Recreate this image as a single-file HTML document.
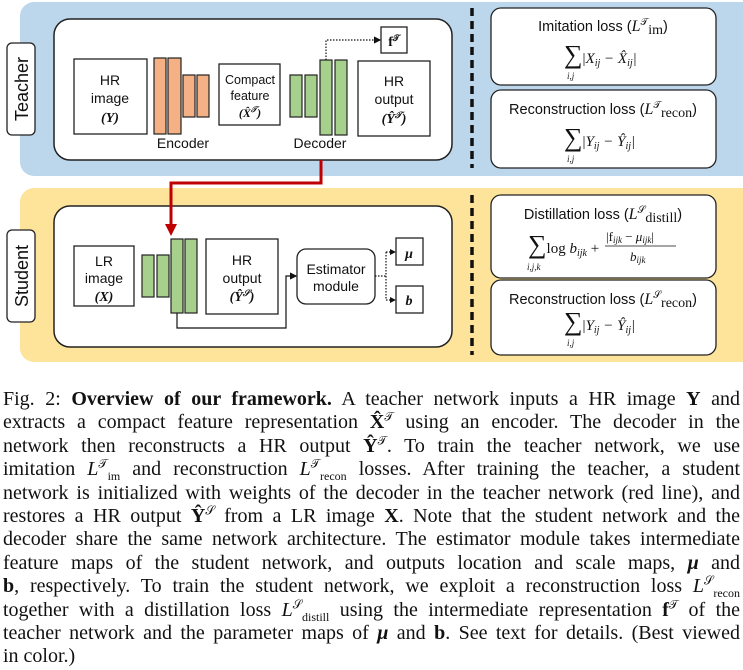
<!DOCTYPE html>
<html><head><meta charset="utf-8"><style>
html,body{margin:0;padding:0;background:#fff;width:743px;height:670px;overflow:hidden}
svg{position:absolute;left:0;top:0}
.s{font-family:"Liberation Sans",sans-serif;fill:#111}
.m{font-family:"Liberation Serif",serif;fill:#111}
#cap{position:absolute;left:3px;top:388px;width:737px;font-family:"Liberation Serif",serif;font-size:20px;color:#111}
#cap div{height:23.4px;line-height:23.4px;white-space:nowrap}
sub,sup{font-size:12px;line-height:0}
</style></head><body>
<svg width="743" height="380" viewBox="0 0 743 380">
<defs>
<marker id="a" markerWidth="6" markerHeight="6" refX="5" refY="3" orient="auto"><path d="M0,0L6,3L0,6z" fill="#111"/></marker>
</defs>
<rect x="20" y="2" width="740" height="174" rx="14" fill="#bcd6ec"/>
<rect x="20" y="188" width="740" height="174" rx="14" fill="#fde49a"/>
<rect x="54" y="19" width="398" height="141" rx="16" fill="#fff" stroke="#222" stroke-width="1.5"/>
<rect x="54" y="206" width="398" height="141" rx="16" fill="#fff" stroke="#222" stroke-width="1.5"/>
<rect x="7" y="43" width="28" height="92" rx="5" fill="#fff" stroke="#222" stroke-width="1.3"/>
<text class="s" font-size="18" transform="translate(28,89) rotate(-90)" text-anchor="middle">Teacher</text>
<rect x="7" y="230" width="28" height="92" rx="5" fill="#fff" stroke="#222" stroke-width="1.3"/>
<text class="s" font-size="18" transform="translate(28,276) rotate(-90)" text-anchor="middle">Student</text>
<line x1="472" y1="8" x2="472" y2="168" stroke="#111" stroke-width="3.5" stroke-dasharray="8,5"/>
<line x1="472" y1="195" x2="472" y2="355" stroke="#111" stroke-width="3.5" stroke-dasharray="8,5"/>
<g fill="#fff" stroke="#222" stroke-width="1.3">
<rect x="491" y="8" width="225" height="77" rx="10"/>
<rect x="491" y="90" width="225" height="78" rx="10"/>
<rect x="491" y="195" width="225" height="83" rx="10"/>
<rect x="491" y="280" width="225" height="75" rx="10"/>
</g>
<g class="s" font-size="14.5" text-anchor="middle">
<text x="603" y="31">Imitation loss (<tspan class="m" font-style="italic" font-size="16">L</tspan><tspan class="m" font-size="10" dy="-6">𝒯</tspan><tspan class="m" dy="9" font-size="14">im</tspan><tspan dy="-3">)</tspan></text>
<text x="603" y="114">Reconstruction loss (<tspan class="m" font-style="italic" font-size="16">L</tspan><tspan class="m" font-size="10" dy="-6">𝒯</tspan><tspan class="m" dy="9" font-size="14">recon</tspan><tspan dy="-3">)</tspan></text>
<text x="603" y="219">Distillation loss (<tspan class="m" font-style="italic" font-size="16">L</tspan><tspan class="m" font-size="10" dy="-6">𝒮</tspan><tspan class="m" dy="9" font-size="14">distill</tspan><tspan dy="-3">)</tspan></text>
<text x="603" y="304">Reconstruction loss (<tspan class="m" font-style="italic" font-size="16">L</tspan><tspan class="m" font-size="10" dy="-6">𝒮</tspan><tspan class="m" dy="9" font-size="14">recon</tspan><tspan dy="-3">)</tspan></text>
</g>
<g class="m" font-size="15">
<text x="564" y="63"><tspan font-size="26">∑</tspan>|<tspan font-style="italic">X<tspan font-size="10" dy="3">ij</tspan><tspan dy="-3"> − X̂</tspan><tspan font-size="10" dy="3">ij</tspan><tspan dy="-3">|</tspan></tspan></text>
<text x="567" y="79" font-size="9" font-style="italic">i,j</text>
<text x="564" y="146"><tspan font-size="26">∑</tspan>|<tspan font-style="italic">Y<tspan font-size="10" dy="3">ij</tspan><tspan dy="-3"> − Ŷ</tspan><tspan font-size="10" dy="3">ij</tspan><tspan dy="-3">|</tspan></tspan></text>
<text x="567" y="162" font-size="9" font-style="italic">i,j</text>
<text x="528" y="253"><tspan font-size="26">∑</tspan>log <tspan font-style="italic">b<tspan font-size="10" dy="3">ijk</tspan></tspan><tspan dy="-3"> +</tspan></text>
<text x="527" y="270" font-size="9" font-style="italic">i,j,k</text>
<text x="606" y="241" font-size="13">|f<tspan font-size="9" dy="2" font-style="italic">ijk</tspan><tspan dy="-2"> − </tspan><tspan font-style="italic">μ<tspan font-size="9" dy="2">ijk</tspan></tspan><tspan dy="-2">|</tspan></text>
<line x1="605" y1="246" x2="676" y2="246" stroke="#111" stroke-width="0.8"/>
<text x="630" y="261" font-size="13" font-style="italic">b<tspan font-size="9" dy="2">ijk</tspan></text>
<text x="564" y="330"><tspan font-size="26">∑</tspan>|<tspan font-style="italic">Y<tspan font-size="10" dy="3">ij</tspan><tspan dy="-3"> − Ŷ</tspan><tspan font-size="10" dy="3">ij</tspan><tspan dy="-3">|</tspan></tspan></text>
<text x="567" y="346" font-size="9" font-style="italic">i,j</text>
</g>
<g fill="#fff" stroke="#222" stroke-width="1.3">
<rect x="74" y="59" width="73" height="75"/>
<rect x="219" y="64" width="61" height="61"/>
<rect x="358" y="61" width="72" height="75"/>
<rect x="381" y="27" width="26" height="26"/>
<rect x="74" y="246" width="60" height="60"/>
<rect x="206" y="239" width="72" height="75"/>
<rect x="297" y="249" width="78" height="55" rx="9"/>
<rect x="396" y="238" width="27" height="27"/>
<rect x="396" y="286" width="27" height="27"/>
</g>
<g fill="#f3b185" stroke="#222" stroke-width="1.2">
<rect x="154" y="58" width="12" height="76"/><rect x="168" y="58" width="13" height="76"/>
<rect x="183" y="75" width="12" height="42"/><rect x="197" y="75" width="12" height="42"/>
</g>
<g fill="#a8d08d" stroke="#222" stroke-width="1.2">
<rect x="290" y="75" width="12" height="42"/><rect x="305" y="75" width="12" height="42"/>
<rect x="320" y="60" width="12" height="75"/><rect x="335" y="60" width="12" height="75"/>
<rect x="142" y="255" width="12" height="42"/><rect x="157" y="255" width="12" height="42"/>
<rect x="171" y="239" width="12" height="74"/><rect x="185" y="239" width="12" height="74"/>
</g>
<g class="s" font-size="14" text-anchor="middle">
<text x="110" y="85">HR</text><text x="110" y="103">image</text>
<text x="110" y="122" class="m" font-style="italic" font-weight="bold">(Y)</text>
<text x="250" y="84" font-size="12.5">Compact</text><text x="250" y="100" font-size="12.5">feature</text>
<text x="250" y="117" class="m" font-size="12" font-style="italic" font-weight="bold">(X̂<tspan font-size="8" dy="-5">𝒯</tspan><tspan dy="5">)</tspan></text>
<text x="394" y="86">HR</text><text x="394" y="104">output</text>
<text x="394" y="123" class="m" font-style="italic" font-weight="bold">(Ŷ<tspan font-size="9" dy="-5">𝒯</tspan><tspan dy="5">)</tspan></text>
<text x="394" y="46" class="m" font-weight="bold">f<tspan font-size="9" dy="-5">𝒯</tspan></text>
<text x="183" y="148">Encoder</text><text x="320" y="148">Decoder</text>
<text x="104" y="266">LR</text><text x="104" y="283">image</text>
<text x="104" y="301" class="m" font-style="italic" font-weight="bold">(X)</text>
<text x="242" y="265">HR</text><text x="242" y="283">output</text>
<text x="242" y="301" class="m" font-style="italic" font-weight="bold">(Ŷ<tspan font-size="9" dy="-5">𝒮</tspan><tspan dy="5">)</tspan></text>
<text x="336" y="274">Estimator</text><text x="336" y="291">module</text>
<text x="409" y="258" class="m" font-style="italic" font-weight="bold">μ</text>
<text x="409" y="305" class="m" font-style="italic" font-weight="bold">b</text>
</g>
<path d="M326,60V40H380" fill="none" stroke="#111" stroke-width="1.2" stroke-dasharray="1.5,1.5" marker-end="url(#a)"/>
<path d="M177,313V328H286V276H296" fill="none" stroke="#111" stroke-width="1.2" marker-end="url(#a)"/>
<path d="M375,276H386M386,252V300M386,252H395M386,300H395" fill="none" stroke="#111" stroke-width="1.2" stroke-dasharray="1.5,1.5"/>
<path d="M390,249L396,252L390,255zM390,297L396,300L390,303z" fill="#111"/>
<path d="M321,160V183H171V224" fill="none" stroke="#c00000" stroke-width="3"/>
<path d="M165,224L177,224L171,236z" fill="#c00000"/>
</svg>
<div id="cap">
<div class="j"><span>Fig. 2: <b>Overview of our framework.</b> A teacher network inputs a HR image <b>Y</b> and</span></div>
<div class="j"><span>extracts a compact feature representation <b>X̂</b><sup>𝒯</sup> using an encoder. The decoder in the</span></div>
<div class="j"><span>network then reconstructs a HR output <b>Ŷ</b><sup>𝒯</sup>. To train the teacher network, we use</span></div>
<div class="j"><span>imitation <i>L</i><sup>𝒯</sup><sub>im</sub> and reconstruction <i>L</i><sup>𝒯</sup><sub>recon</sub> losses. After training the teacher, a student</span></div>
<div class="j"><span>network is initialized with weights of the decoder in the teacher network (red line), and</span></div>
<div class="j"><span>restores a HR output <b>Ŷ</b><sup>𝒮</sup> from a LR image <b>X</b>. Note that the student network and the</span></div>
<div class="j"><span>decoder share the same network architecture. The estimator module takes intermediate</span></div>
<div class="j"><span>feature maps of the student network, and outputs location and scale maps, <b><i>μ</i></b> and</span></div>
<div class="j"><span><b>b</b>, respectively. To train the student network, we exploit a reconstruction loss <i>L</i><sup>𝒮</sup><sub>recon</sub></span></div>
<div class="j"><span>together with a distillation loss <i>L</i><sup>𝒮</sup><sub>distill</sub> using the intermediate representation <b>f</b><sup>𝒯</sup> of the</span></div>
<div class="j"><span>teacher network and the parameter maps of <b><i>μ</i></b> and <b>b</b>. See text for details. (Best viewed</span></div>
<div><span>in color.)</span></div>
</div>
<script>
document.querySelectorAll('#cap div.j').forEach(function(d){
 var s=d.firstChild, w=737;
 var sw=s.getBoundingClientRect().width;
 if(sw>w){s.style.fontSize=(20*w/sw)+'px';s.style.display='inline-block';}
 else{
  var n=(s.textContent.match(/ /g)||[]).length;
  if(n) s.style.wordSpacing=((w-sw)/n)+'px';
 }
});
</script>
</body></html>
